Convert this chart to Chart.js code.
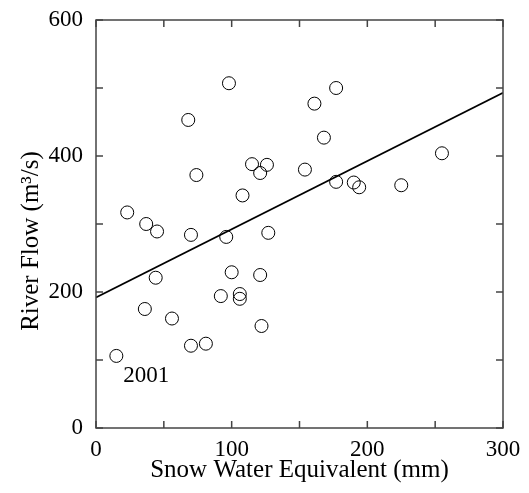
<!DOCTYPE html>
<html>
<head>
<meta charset="utf-8">
<script src="https://cdn.jsdelivr.net/npm/chart.js@4.4.1/dist/chart.umd.min.js"></script>
<style>
  html, body { margin: 0; padding: 0; background: #fff; }
  #wrap { width: 529px; height: 493px; }
</style>
</head>
<body>
<div id="wrap"><canvas id="c" width="529" height="493"></canvas></div>
<script>
// snow water equivalent (mm) vs river flow (m3/s), one point per year
const swe = [15, 23, 37, 45, 70, 96, 127, 44, 100, 121, 36, 56, 92, 106, 106, 122, 70, 81,
  98, 68, 74, 115, 121, 126, 108, 154, 161, 177, 168, 177, 190, 194, 225, 255];
const flow = [106, 317, 300, 289, 284, 281, 287, 221, 229, 225, 175, 161, 194, 197, 190, 150, 121, 124,
  507, 453, 372, 388, 375, 387, 342, 380, 477, 500, 427, 362, 361, 354, 357, 404];

// fitted regression line end points
const fitX = [0, 300];
const fitY = [192, 493];

const note = { text: '2001', x: 20, y: 77 };
const yTitle = 'River Flow (m³/s)';

const FONT = '"Liberation Serif", "Times New Roman", serif';

const points = swe.map((x, i) => ({ x: x, y: flow[i] }));
const fitLine = fitX.map((x, i) => ({ x: x, y: fitY[i] }));

const frame = {
  id: 'frame',
  afterDatasetsDraw(chart) {
    const ctx = chart.ctx;
    const a = chart.chartArea;
    const xs = chart.scales.x, ys = chart.scales.y;
    const len = 7;
    ctx.save();
    ctx.strokeStyle = '#444';
    ctx.lineWidth = 1.5;
    ctx.strokeRect(a.left, a.top, a.right - a.left, a.bottom - a.top);
    ctx.beginPath();
    xs.ticks.forEach(t => {
      const px = xs.getPixelForValue(t.value);
      ctx.moveTo(px, a.bottom); ctx.lineTo(px, a.bottom - len);
      ctx.moveTo(px, a.top); ctx.lineTo(px, a.top + len);
    });
    ys.ticks.forEach(t => {
      const py = ys.getPixelForValue(t.value);
      ctx.moveTo(a.left, py); ctx.lineTo(a.left + len, py);
      ctx.moveTo(a.right, py); ctx.lineTo(a.right - len, py);
    });
    ctx.stroke();
    ctx.fillStyle = '#000';
    // year label
    ctx.font = '23px ' + FONT;
    ctx.textAlign = 'left';
    ctx.textBaseline = 'middle';
    ctx.fillText(note.text, xs.getPixelForValue(note.x), ys.getPixelForValue(note.y));
    // y axis title, sits a little below the middle like the original
    ctx.font = '25px ' + FONT;
    ctx.textAlign = 'center';
    ctx.translate(31, 241);
    ctx.rotate(-Math.PI / 2);
    ctx.fillText(yTitle, 0, 0);
    ctx.restore();
  }
};

new Chart(document.getElementById('c').getContext('2d'), {
  type: 'scatter',
  data: {
    datasets: [
      { data: points, pointRadius: 6.5, pointHoverRadius: 6.5, pointBorderWidth: 1,
        pointBorderColor: '#000', pointBackgroundColor: 'rgba(0,0,0,0)' },
      { type: 'line', data: fitLine, borderColor: '#000', borderWidth: 1.6, pointRadius: 0, fill: false }
    ]
  },
  options: {
    responsive: false,
    animation: false,
    layout: { padding: { top: 20, right: 26, left: 0, bottom: 0 } },
    plugins: { legend: { display: false }, tooltip: { enabled: false } },
    scales: {
      x: {
        type: 'linear', min: 0, max: 300,
        grid: { display: false }, border: { display: false },
        ticks: { stepSize: 50, padding: 0, color: '#000', font: { family: FONT, size: 23 },
          maxRotation: 0, autoSkip: false,
          callback: v => (v % 100 === 0 ? v : '') },
        title: { display: true, text: 'Snow Water Equivalent (mm)', color: '#000',
          font: { family: FONT, size: 25 }, padding: { top: 0, bottom: 8 } },
        afterFit: s => { s.height = 65; }
      },
      y: {
        min: 0, max: 600,
        grid: { display: false }, border: { display: false },
        ticks: { stepSize: 100, padding: 5, color: '#000', font: { family: FONT, size: 23 },
          autoSkip: false,
          callback: v => (v % 200 === 0 ? v : '') },
        afterFit: s => { s.width = 96; }
      }
    }
  },
  plugins: [frame]
});
</script>
</body>
</html>
